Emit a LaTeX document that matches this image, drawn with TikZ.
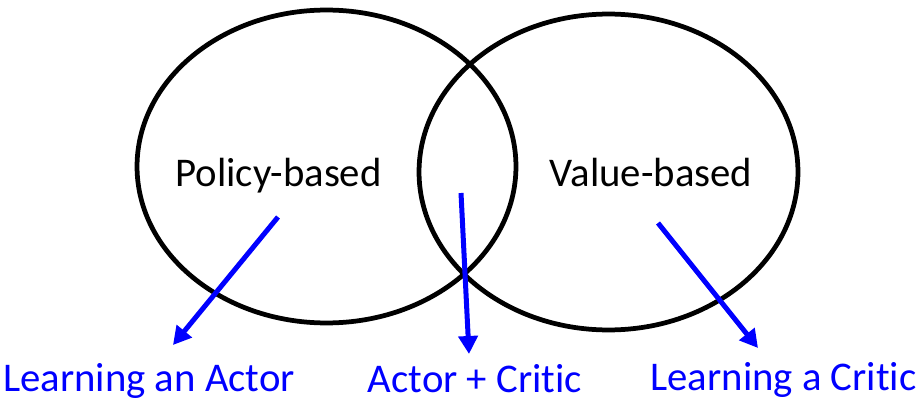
\documentclass[tikz,border=0pt]{standalone}
\usepackage{fontspec}
\setmainfont{Carlito}[Ligatures={NoCommon}]
\usetikzlibrary{arrows.meta,shapes.geometric,positioning}

\begin{document}
\begin{tikzpicture}
[x=.02cm,y=-.02cm,
    venn/.style={draw,shape=ellipse,line width=.095cm,inner sep=0pt},
    term/.style={font=\fontsize{23.2}{28}\selectfont,inner sep=0pt,anchor=base},
    lab/.style={term,text=blue},
    myedge/.style={-{Triangle[length=.36cm,width=.38cm]},draw=blue,fill=blue,line width=.1cm}]
\useasboundingbox (0,0) rectangle (922,402);
%%%%%%%%%%
%%%%% the two sets
\node (pol) [venn,minimum width=7.58cm,minimum height=6.26cm] at (326.5,166.5) {};
\node (val) [venn,minimum width=7.58cm,minimum height=6.32cm] at (608.5,172) {};
\node (tpol) [term] at (278.5,186) {Policy-based};
\node (tval) [term] at (651,186) {Value-based};
%% what is learned
\node (lact) [lab] at (149,391.5) {Learning an Actor};
\node (lac) [lab] at (475,392.5) {Actor + Critic};
\node (lcri) [lab] at (783.5,390) {Learning a Critic};
%% arrow ends
\coordinate (s1) at (278,217);
\coordinate (s2) at (461,193);
\coordinate (s3) at (658,223);
\coordinate (t1) at (173,345);
\coordinate (t2) at (469,354);
\coordinate (t3) at (758,348);
%% arrows
\draw[myedge] (s1) -- (t1);
\draw[myedge] (s2) -- (t2);
\draw[myedge] (s3) -- (t3);
\end{tikzpicture}
\end{document}
